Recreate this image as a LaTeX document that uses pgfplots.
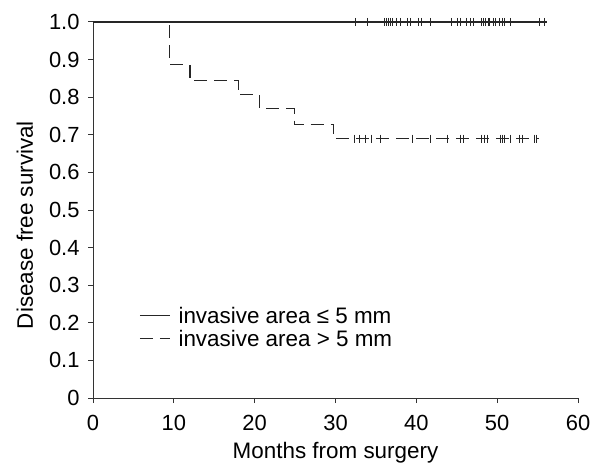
\documentclass[border=0pt]{standalone}
\usepackage{fontspec}
\setmainfont{Liberation Sans}
\usepackage{pgfplots}
\pgfplotsset{compat=1.18}

\begin{document}
\begin{tikzpicture}
\begin{axis}[
    name=ax,
    width=485bp, height=376bp, scale only axis,
    xmin=0, xmax=60, ymin=0, ymax=1,
    axis lines=left,
    axis line style={-, line width=1bp, black!80},
    tick align=outside,
    tick style={line width=1bp, black!80},
    major tick length=5bp,
    xtick={0,10,...,60},
    ytick={0,0.1,0.2,0.3,0.4,0.5,0.6,0.7,0.8,0.9,1.0},
    yticklabels={0,0.1,0.2,0.3,0.4,0.5,0.6,0.7,0.8,0.9,1.0},
    /pgf/number format/assume math mode=true,
    tick label style={font=\fontsize{22}{26}\selectfont},
    xticklabel style={yshift=-9bp},
    yticklabel style={xshift=-5bp},
    label style={font=\fontsize{22.5}{26}\selectfont},
    xlabel={Months from surgery},
    ylabel={Disease free survival},
    xlabel style={yshift=-4bp},
    ylabel style={at={(ticklabel cs:0.46,9bp)}},
    clip=false,
    legend style={at={(axis cs:5.35,0.253)}, anchor=north west, draw=none, fill=none,
        font=\fontsize{22.5}{26}\selectfont, row sep=1bp},
    legend cell align=left,
    legend image code/.code={\draw[#1] (0bp,0bp) -- (30bp,0bp); \path (0bp,0bp) (36bp,0bp);},
]
% invasive area <= 5 mm: no events
\addplot[const plot, line width=1.1bp, black!85] coordinates {
    (0,1.0) (56.2,1.0)
};
\addlegendentry{invasive area ≤ 5 mm}
% invasive area > 5 mm
\addplot[const plot, line width=1.1bp, black!85, dash pattern=on 13bp off 7bp] coordinates {
    (0,1.0) (9.5,0.886) (12.0,0.844) (18.0,0.806) (20.6,0.769) (24.9,0.728) (29.8,0.690) (55.2,0.690)
};
\addlegendentry{invasive area > 5 mm}
% censored observations
\addplot[only marks, mark=|, mark size=4bp, mark options={line width=0.9bp, black!85}, forget plot] coordinates {
    (32.5,1) (33.9,1) (36.1,1) (36.3,1) (36.6,1) (36.8,1) (37.1,1) (37.5,1) (38.0,1)
    (38.9,1) (39.3,1) (40.2,1) (40.6,1) (41.8,1) (44.4,1) (45.1,1) (45.5,1) (46.2,1)
    (46.7,1) (47.1,1) (48.0,1) (48.3,1) (48.6,1) (48.9,1) (49.1,1) (49.5,1) (49.8,1)
    (50.3,1) (50.6,1) (50.9,1) (51.6,1) (55.2,1) (55.8,1)
};
\addplot[only marks, mark=|, mark size=4bp, mark options={line width=0.9bp, black!85}, forget plot] coordinates {
    (32.3,0.69) (33.0,0.69) (33.7,0.69) (34.4,0.69) (35.6,0.69) (39.5,0.69) (41.8,0.69)
    (43.8,0.69) (45.4,0.69) (45.8,0.69) (48.0,0.69) (48.4,0.69) (48.8,0.69) (50.4,0.69)
    (50.6,0.69) (50.9,0.69) (51.6,0.69) (52.7,0.69) (53.1,0.69) (54.6,0.69) (54.8,0.69)
};
\end{axis}
\pgfresetboundingbox
\path ([xshift=-93bp,yshift=-68bp]ax.south west) rectangle ([xshift=24bp,yshift=22bp]ax.north east);
\end{tikzpicture}
\end{document}
